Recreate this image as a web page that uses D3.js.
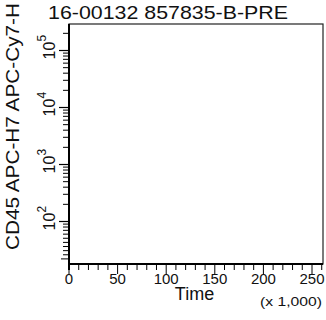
<!DOCTYPE html>
<html>
<head>
<meta charset="utf-8">
<script src="https://cdn.jsdelivr.net/npm/d3@7"></script>
<style>
  body { margin: 0; background: #fff; }
  text { font-family: "Liberation Sans", Arial, sans-serif; fill: #111; }
</style>
</head>
<body>
<svg id="plot" width="326" height="320"></svg>
<script>
// chart texts
var title = "16-00132 857835-B-PRE";
var yTitle = "CD45 APC-H7 APC-Cy7-H";
var xTitle = "Time";
var xUnit = "(x 1,000)";

// x axis (values in thousands)
var xMajor = [0, 50, 100, 150, 200, 250];
var xMinor = d3.range(0, 261, 10);
var xMax = 262.144;

// y axis (biexponential-ish: log above, linear near zero)
var yMajor = [100, 1000, 10000, 100000];
var yExp = ["2", "3", "4", "5"];
var yMinor = [0, 10, 20, 30, 40, 50, 60, 70, 80, 90,
              200, 300, 400, 500, 600, 700, 800, 900,
              2000, 3000, 4000, 5000, 6000, 7000, 8000, 9000,
              20000, 30000, 40000, 50000, 60000, 70000, 80000, 90000,
              200000];

var svg = d3.select("#plot");

// plot box
var pLeft = 69, pRight = 323, pTop = 24, pBottom = 264;

//Create scale functions
var xScale = d3.scaleLinear()
    .domain([0, xMax])
    .range([pLeft, pLeft + 243 * xMax / 250]);

var yLog = d3.scaleLog()
    .domain([100, 100000])
    .range([221.5, 50.5]);
var kPx = (221.5 - 50.5) / 3 / Math.LN10;
var T = 60;
var yLin = d3.scaleLinear()
    .domain([0, T])
    .range([yLog(T) + kPx, yLog(T)]);
function yPos(v) { return v >= T ? yLog(v) : yLin(v); }

// frame
svg.append("rect")
    .attr("x", pLeft)
    .attr("y", pTop)
    .attr("width", pRight - pLeft)
    .attr("height", pBottom - pTop)
    .attr("fill", "none")
    .attr("stroke", "#222")
    .attr("stroke-width", 1.2);

// x ticks
svg.selectAll(".xminor")
    .data(xMinor)
    .enter()
    .append("line")
    .attr("class", "xminor")
    .attr("x1", function(d) { return xScale(d); })
    .attr("x2", function(d) { return xScale(d); })
    .attr("y1", pBottom)
    .attr("y2", function(d) { return xMajor.indexOf(d) >= 0 ? pBottom + 10 : pBottom + 6; })
    .style("stroke", "#000")
    .style("stroke-width", 1);

svg.selectAll(".xlab")
    .data(xMajor)
    .enter()
    .append("text")
    .attr("class", "xlab")
    .attr("x", function(d) { return xScale(d); })
    .attr("y", 284)
    .attr("text-anchor", "middle")
    .style("font-size", "15px")
    .text(function(d) { return d; });

// y ticks
svg.selectAll(".yminor")
    .data(yMinor)
    .enter()
    .append("line")
    .attr("class", "yminor")
    .attr("x1", pLeft)
    .attr("x2", function(d) { return d === 0 ? pLeft - 8 : pLeft - 6; })
    .attr("y1", function(d) { return yPos(d); })
    .attr("y2", function(d) { return yPos(d); })
    .style("stroke", "#000")
    .style("stroke-width", 1);

svg.selectAll(".ymajor")
    .data(yMajor)
    .enter()
    .append("line")
    .attr("class", "ymajor")
    .attr("x1", pLeft)
    .attr("x2", pLeft - 10)
    .attr("y1", function(d) { return yPos(d); })
    .attr("y2", function(d) { return yPos(d); })
    .style("stroke", "#000")
    .style("stroke-width", 1.2);

var ylab = svg.selectAll(".ylab")
    .data(yMajor)
    .enter()
    .append("g")
    .attr("class", "ylab")
    .attr("transform", function(d) { return "translate(55," + yPos(d) + ") rotate(-90)"; });
ylab.append("text")
    .attr("text-anchor", "middle")
    .style("font-size", "16px")
    .text("10");
ylab.append("text")
    .attr("x", 9)
    .attr("y", -9)
    .style("font-size", "12px")
    .text(function(d, i) { return yExp[i]; });

// thicker axis lines
svg.append("line")
    .attr("x1", pLeft).attr("x2", pLeft)
    .attr("y1", pTop).attr("y2", pBottom + 6)
    .style("stroke", "#000")
    .style("stroke-width", 2);
svg.append("line")
    .attr("x1", pLeft).attr("x2", pRight)
    .attr("y1", pBottom).attr("y2", pBottom)
    .style("stroke", "#000")
    .style("stroke-width", 2);

// titles
svg.append("text")
    .attr("x", 48)
    .attr("y", 19)
    .attr("textLength", 240)
    .attr("lengthAdjust", "spacingAndGlyphs")
    .style("font-size", "19px")
    .text(title);

svg.append("text")
    .attr("transform", "translate(19,250) rotate(-90)")
    .attr("textLength", 247)
    .attr("lengthAdjust", "spacingAndGlyphs")
    .style("font-size", "19px")
    .text(yTitle);

svg.append("text")
    .attr("x", 194.5)
    .attr("y", 300)
    .attr("text-anchor", "middle")
    .style("font-size", "18px")
    .text(xTitle);

svg.append("text")
    .attr("x", 260)
    .attr("y", 306)
    .attr("textLength", 62)
    .attr("lengthAdjust", "spacingAndGlyphs")
    .style("font-size", "13px")
    .text(xUnit);
</script>
</body>
</html>
